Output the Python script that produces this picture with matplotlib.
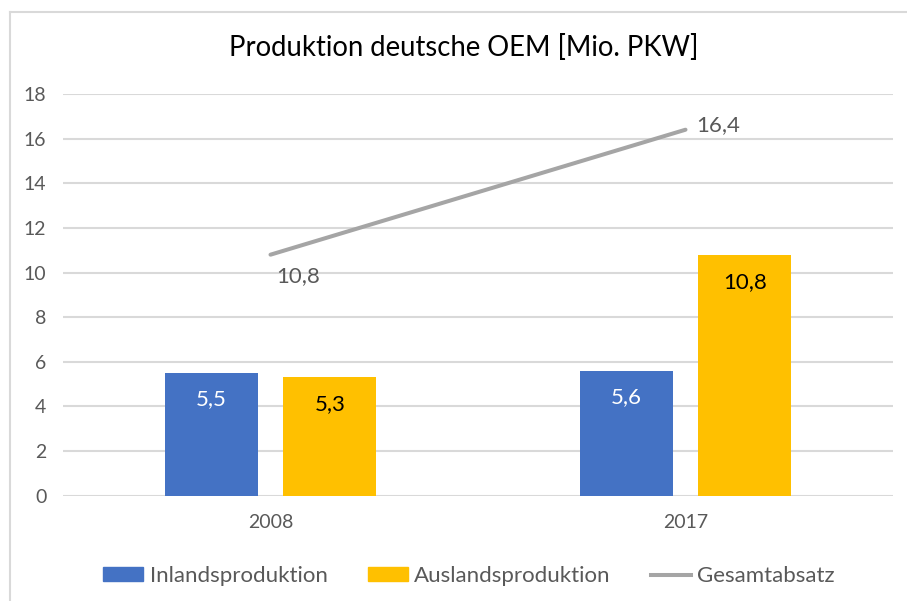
import numpy as np
import matplotlib
matplotlib.use("Agg")
import matplotlib.pyplot as plt
from matplotlib.lines import Line2D
from matplotlib.patches import Patch

plt.rcParams['font.family'] = ['Lato', 'DejaVu Sans']

years = ['2008', '2017']
inland = [5.5, 5.6]
ausland = [5.3, 10.8]
gesamt = [10.8, 16.4]
yticks = [0, 2, 4, 6, 8, 10, 12, 14, 16, 18]

blue = '#4472C4'
gold = '#FFC000'
grey = '#A5A5A5'
txt = '#595959'

W, H = 907, 601
fig = plt.figure(figsize=(W / 100, H / 100), dpi=100)

# outer chart border (only top and left visible)
fig.add_artist(Line2D([10 / W, 10 / W], [0, 1 - 12 / H], color='#D9D9D9', lw=1.5))
fig.add_artist(Line2D([10 / W, 1], [1 - 12 / H, 1 - 12 / H], color='#D9D9D9', lw=1.5))

ax = fig.add_axes([63 / W, 1 - 495.7 / H, 830 / W, 401.7 / H])
x = np.arange(len(years))
bw = 0.224
off = 0.143

def fmt(v):
    return f'{v:.1f}'.replace('.', ',')

ax.bar(x - off, inland, bw, color=blue, zorder=3)
ax.bar(x + off, ausland, bw, color=gold, zorder=3)
ax.plot(x, gesamt, color=grey, lw=2.9, solid_capstyle='round', zorder=4)

for xi, v in zip(x - off, inland):
    ax.annotate(fmt(v), (xi, v), xytext=(0, -26), textcoords='offset pixels',
                ha='center', va='center', color='white', fontsize=16)
for xi, v in zip(x + off, ausland):
    ax.annotate(fmt(v), (xi, v), xytext=(0, -27), textcoords='offset pixels',
                ha='center', va='center', color='black', fontsize=16)

ax.annotate(fmt(gesamt[0]), (x[0], gesamt[0]), xytext=(28, -21),
            textcoords='offset pixels', ha='center', va='center', color=txt, fontsize=16)
ax.annotate(fmt(gesamt[1]), (x[1], gesamt[1]), xytext=(11, 5),
            textcoords='offset pixels', ha='left', va='center', color=txt, fontsize=16)

ax.set_xlim(-0.5, 1.5)
ax.set_ylim(0, 18)
ax.set_yticks(yticks)
ax.set_yticklabels([str(t) for t in yticks], color=txt, fontsize=14)
ax.set_xticks(x)
ax.set_xticklabels(years, color=txt, fontsize=14)
ax.tick_params(length=0)
ax.tick_params(axis='y', pad=12)
ax.tick_params(axis='x', pad=13)
ax.grid(axis='y', color='#D9D9D9', lw=1.5, zorder=0)
for s in ax.spines.values():
    s.set_visible(False)

fig.text(464 / W, 1 - 48 / H, 'Produktion deutsche OEM [Mio. PKW]', ha='center', va='center',
         fontsize=19.8, color='black')

handles = [Patch(color=blue), Patch(color=gold), Line2D([0], [0], color=grey, lw=2.9)]
labels = ['Inlandsproduktion', 'Auslandsproduktion', 'Gesamtabsatz']
leg = fig.legend(handles, labels, loc='center', bbox_to_anchor=(469 / W, 1 - 576 / H), ncol=3,
                 frameon=False, fontsize=16, handlelength=1.8, handleheight=0.55,
                 handletextpad=0.3, columnspacing=1.8)
for t in leg.get_texts():
    t.set_color(txt)

fig.savefig('out.png', dpi=100)
